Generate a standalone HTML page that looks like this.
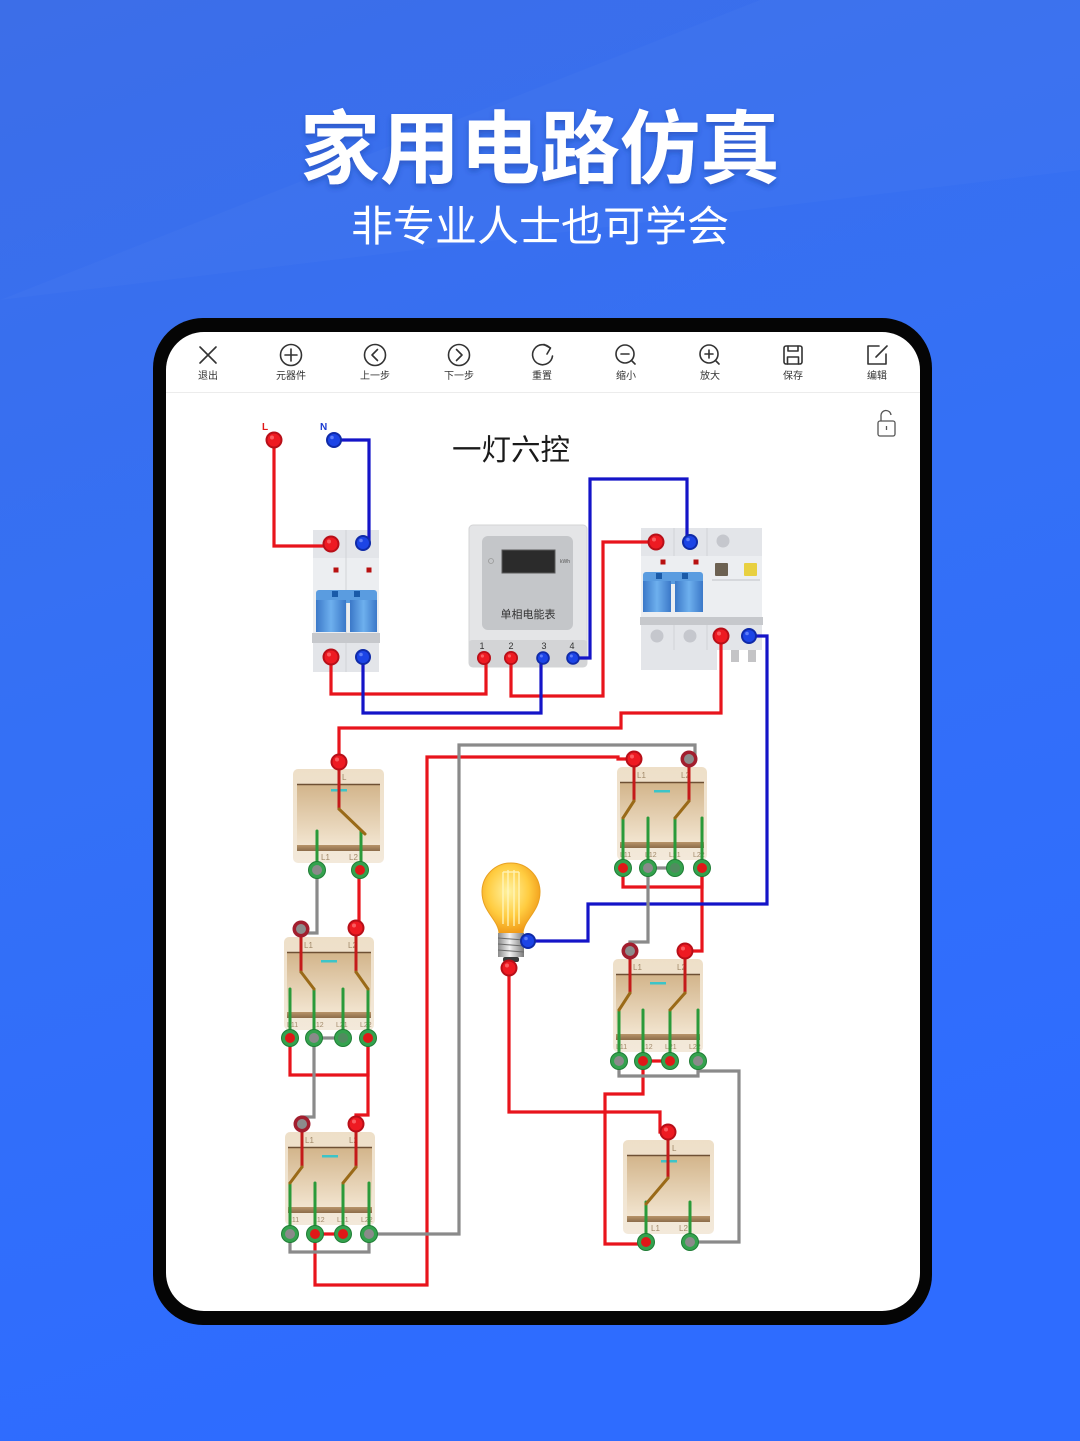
<!DOCTYPE html>
<html><head><meta charset="utf-8"><style>
html,body{margin:0;padding:0;background:#3570f5;}
svg{display:block;}
text{font-family:"Liberation Sans","Noto Sans CJK SC",sans-serif;}
</style></head><body>
<svg width="1080" height="1441" viewBox="0 0 1080 1441" xmlns="http://www.w3.org/2000/svg">
<defs>
<linearGradient id="bg" x1="0" y1="0" x2="0.25" y2="1">
<stop offset="0" stop-color="#3c6ee8"/><stop offset="0.5" stop-color="#3470f6"/><stop offset="1" stop-color="#2e6cff"/></linearGradient>
<filter id="sh" x="-10%" y="-30%" width="120%" height="160%"><feDropShadow dx="0" dy="3" stdDeviation="3" flood-color="#1a3a9a" flood-opacity="0.45"/></filter>
<linearGradient id="frame" x1="0" y1="0" x2="0" y2="1"><stop offset="0" stop-color="#eedfc8"/><stop offset="1" stop-color="#f3e9da"/></linearGradient>
<linearGradient id="panel" x1="0" y1="0" x2="0" y2="1"><stop offset="0" stop-color="#d2b48a"/><stop offset="1" stop-color="#f5e9d6"/></linearGradient>
<linearGradient id="band" x1="0" y1="0" x2="0" y2="1"><stop offset="0" stop-color="#b8946a"/><stop offset="1" stop-color="#8c6c4a"/></linearGradient>
<linearGradient id="hdl" x1="0" y1="0" x2="1" y2="0"><stop offset="0" stop-color="#3b78c8"/><stop offset="0.5" stop-color="#6eb0ee"/><stop offset="1" stop-color="#3b78c8"/></linearGradient>
<radialGradient id="glass" cx="0.45" cy="0.4" r="0.6"><stop offset="0" stop-color="#fff2a0"/><stop offset="0.6" stop-color="#ffcc40"/><stop offset="1" stop-color="#f09a18"/></radialGradient>
<linearGradient id="metal" x1="0" y1="0" x2="1" y2="0"><stop offset="0" stop-color="#8a8a8a"/><stop offset="0.45" stop-color="#f2f2f2"/><stop offset="1" stop-color="#7a7a7a"/></linearGradient>
<g id="tr"><circle r="8.5" fill="#b80f18"/><circle r="6.5" fill="#ee1a22"/><circle cx="-2" cy="-2.5" r="2" fill="#ff7a7a" opacity="0.7"/></g>
<g id="tb"><circle r="8" fill="#0f2aa8"/><circle r="6" fill="#1c44e6"/><circle cx="-2" cy="-2.5" r="1.8" fill="#7a96ff" opacity="0.7"/></g>
<g id="trs"><circle r="7" fill="#b80f18"/><circle r="5.3" fill="#ee1a22"/><circle cx="-1.6" cy="-2" r="1.6" fill="#ff7a7a" opacity="0.7"/></g>
<g id="tbs"><circle r="6.8" fill="#0f2aa8"/><circle r="5" fill="#1c44e6"/><circle cx="-1.6" cy="-2" r="1.5" fill="#7a96ff" opacity="0.7"/></g>
<g id="tgr"><circle r="8.5" fill="#34a24e" stroke="#1f7d35" stroke-width="1"/><circle r="5" fill="#e01818"/></g>
<g id="tgg"><circle r="8.5" fill="#34a24e" stroke="#1f7d35" stroke-width="1"/><circle r="5" fill="#8a8a8a"/></g>
<g id="tgn"><circle r="8.5" fill="#34a24e" stroke="#1f7d35" stroke-width="1"/><circle r="5" fill="#4f8c5e"/></g>
<g id="tdr"><circle r="8.5" fill="#a21e2e"/><circle r="5" fill="#8c8c8c"/></g>
<g id="dsw">
<rect x="0" y="0" width="90" height="93" rx="5" fill="url(#frame)"/>
<rect x="3" y="15" width="84" height="66" fill="url(#panel)"/>
<line x1="3" y1="15.5" x2="87" y2="15.5" stroke="#6e5034" stroke-width="1.5"/>
<rect x="3" y="75" width="84" height="6" fill="url(#band)"/>
<rect x="37" y="23" width="16" height="2.5" fill="#3cc4c8"/>
<text x="20" y="11" font-size="8" fill="#a08868">L1</text>
<text x="64" y="11" font-size="8" fill="#a08868">L2</text>
<text x="3" y="90" font-size="7" fill="#a08868">L11</text>
<text x="28" y="90" font-size="7" fill="#a08868">L12</text>
<text x="52" y="90" font-size="7" fill="#a08868">L21</text>
<text x="76" y="90" font-size="7" fill="#a08868">L22</text>
</g>
<g id="ssw">
<rect x="0" y="0" width="91" height="94" rx="5" fill="url(#frame)"/>
<rect x="4" y="15" width="83" height="67" fill="url(#panel)"/>
<line x1="4" y1="15.5" x2="87" y2="15.5" stroke="#6e5034" stroke-width="1.5"/>
<rect x="4" y="76" width="83" height="6" fill="url(#band)"/>
<rect x="38" y="20" width="16" height="2.5" fill="#3cc4c8"/>
<text x="49" y="11" font-size="8" fill="#a08868">L</text>
<text x="28" y="91" font-size="8" fill="#a08868">L1</text>
<text x="56" y="91" font-size="8" fill="#a08868">L2</text>
</g>
</defs>

<rect width="1080" height="1441" fill="url(#bg)"/>
<polygon points="0,300 1080,170 1080,0 760,0" fill="#ffffff" opacity="0.025"/>

<text x="540" y="177" font-size="80" font-weight="bold" fill="#ffffff" text-anchor="middle" filter="url(#sh)">家用电路仿真</text>
<text x="540" y="241" font-size="42" fill="#ffffff" text-anchor="middle">非专业人士也可学会</text>

<rect x="153" y="318" width="779" height="1007" rx="50" fill="#050505"/>
<rect x="166" y="332" width="754" height="979" rx="38" fill="#ffffff"/>
<line x1="166" y1="392.5" x2="920" y2="392.5" stroke="#ececec" stroke-width="1"/>

<!-- toolbar -->
<g fill="none" stroke="#333" stroke-width="1.6" stroke-linecap="round" stroke-linejoin="round">
<path d="M200,347 L216,363 M216,347 L200,363"/>
<circle cx="291" cy="355" r="10.5"/><path d="M291,349 V361 M285,355 H297"/>
<circle cx="375" cy="355" r="10.5"/><path d="M377.5,349.5 L372,355 L377.5,360.5"/>
<circle cx="459" cy="355" r="10.5"/><path d="M456.5,349.5 L462,355 L456.5,360.5"/>
<path d="M550,348 A10,10 0 1 0 552.5,356"/><path d="M544,344.5 L550.5,348 L547,354"/>
<circle cx="625" cy="354" r="9"/><path d="M631.5,360.5 L635,364 M621,354 H629"/>
<circle cx="709" cy="354" r="9"/><path d="M715.5,360.5 L719,364 M705,354 H713 M709,350 V358"/>
<rect x="784" y="346" width="18" height="18" rx="2"/><path d="M788,346 V351 H798 V346 M787.5,364 V357 H798.5 V364"/>
<path d="M879,346 H868 V364 H886 V354"/><path d="M876,357 L887,346"/>
</g>
<g font-size="10" fill="#333" text-anchor="middle">
<text x="208" y="379">退出</text><text x="291" y="379">元器件</text><text x="375" y="379">上一步</text>
<text x="459" y="379">下一步</text><text x="542" y="379">重置</text><text x="626" y="379">缩小</text>
<text x="710" y="379">放大</text><text x="793" y="379">保存</text><text x="877" y="379">编辑</text>
</g>

<!-- lock -->
<g fill="none" stroke="#555" stroke-width="1.3">
<rect x="878" y="421" width="17" height="15" rx="2"/>
<path d="M881,421 V416 A5,5 0 0 1 891,415"/>
<path d="M886.5,426 V430"/>
</g>

<text x="452" y="460" font-size="29.5" fill="#1a1a1a">一灯六控</text>

<!-- L/N labels -->
<text x="262" y="430" font-size="10" font-weight="bold" fill="#e01818">L</text>
<text x="320" y="430" font-size="10" font-weight="bold" fill="#1a3ad0">N</text>

<!-- breaker 1 -->
<rect x="313" y="530" width="66" height="28" fill="#e3e5e9"/>
<rect x="313" y="558" width="66" height="85" fill="#eceef1"/>
<line x1="346" y1="530" x2="346" y2="643" stroke="#d2d4d8" stroke-width="1"/>
<rect x="333.5" y="567.5" width="5" height="5" fill="#b81010"/>
<rect x="366.5" y="567.5" width="5" height="5" fill="#b81010"/>
<rect x="316" y="590" width="61" height="13" rx="3" fill="#5a9ce0"/>
<rect x="316" y="600" width="30" height="32" fill="url(#hdl)"/>
<rect x="350" y="600" width="27" height="32" fill="url(#hdl)"/>
<rect x="332" y="591" width="6" height="6" fill="#1a5aa8"/>
<rect x="354" y="591" width="6" height="6" fill="#1a5aa8"/>
<rect x="312" y="633" width="68" height="10" fill="#c6c8cc"/>
<rect x="313" y="643" width="66" height="29" fill="#e3e5e9"/>
<line x1="346" y1="643" x2="346" y2="672" stroke="#d2d4d8" stroke-width="1"/>

<!-- meter -->
<rect x="469" y="525" width="118" height="142" rx="4" fill="#e4e5e7" stroke="#d3d4d6"/>
<rect x="482" y="536" width="91" height="94" rx="6" fill="#c4c6c9"/>
<rect x="502" y="550" width="53" height="23" fill="#2b2b2b" stroke="#5a5a5a"/>
<circle cx="491" cy="561" r="2.5" fill="none" stroke="#999" stroke-width="0.8"/>
<text x="560" y="563" font-size="5" fill="#555">kWh</text>
<text x="528" y="618" font-size="11" fill="#333" text-anchor="middle">单相电能表</text>
<rect x="469" y="640" width="118" height="27" rx="3" fill="#d3d4d6"/>
<g font-size="9" fill="#333" text-anchor="middle"><text x="482" y="649">1</text><text x="511" y="649">2</text><text x="544" y="649">3</text><text x="572" y="649">4</text></g>

<!-- RCD -->
<rect x="641" y="528" width="121" height="28" fill="#e3e5e9"/>
<line x1="674" y1="528" x2="674" y2="556" stroke="#d2d4d8"/><line x1="707" y1="528" x2="707" y2="556" stroke="#d2d4d8"/>
<rect x="641" y="556" width="121" height="61" fill="#eceef1"/>
<rect x="660.5" y="559.5" width="5" height="5" fill="#b81010"/>
<rect x="693.5" y="559.5" width="5" height="5" fill="#b81010"/>
<rect x="643" y="572" width="60" height="12" rx="3" fill="#5a9ce0"/>
<rect x="643" y="581" width="28" height="31" fill="url(#hdl)"/>
<rect x="675" y="581" width="28" height="31" fill="url(#hdl)"/>
<rect x="656" y="573" width="6" height="6" fill="#1a5aa8"/>
<rect x="682" y="573" width="6" height="6" fill="#1a5aa8"/>
<rect x="715" y="563" width="13" height="13" rx="1" fill="#6c6152"/>
<rect x="744" y="563" width="13" height="13" rx="1" fill="#e8d040"/>
<line x1="712" y1="580" x2="760" y2="580" stroke="#c0c2c6" stroke-width="1"/>
<rect x="640" y="617" width="123" height="8" fill="#c6c8cc"/>
<rect x="641" y="625" width="121" height="25" fill="#e3e5e9"/>
<line x1="674" y1="625" x2="674" y2="650" stroke="#d2d4d8"/><line x1="707" y1="625" x2="707" y2="650" stroke="#d2d4d8"/>
<rect x="641" y="650" width="76" height="20" fill="#e3e5e9"/>
<rect x="731" y="650" width="8" height="12" fill="#c4c4c6"/><rect x="748" y="650" width="8" height="12" fill="#c4c4c6"/>
<circle cx="723" cy="541" r="6.5" fill="#c5c7cd"/>
<circle cx="657" cy="636" r="6.5" fill="#c5c7cd"/>
<circle cx="690" cy="636" r="6.5" fill="#c5c7cd"/>

<!-- switch bodies -->
<use href="#ssw" x="293" y="769"/>
<use href="#dsw" x="284" y="937"/>
<use href="#dsw" x="285" y="1132"/>
<use href="#dsw" x="617" y="767"/>
<use href="#dsw" x="613" y="959"/>
<use href="#ssw" x="623" y="1140"/>

<!-- bulb -->
<path d="M499,934 C499,920 482,912 482,892 A29,29 0 1 1 540,892 C540,912 523,920 523,934 Z" fill="url(#glass)" stroke="#e8a020" stroke-width="1"/>
<g stroke="#fff6c0" stroke-width="1.4" fill="none" opacity="0.9">
<path d="M503,872 V924 M508,870 V926 M514,870 V926 M519,872 V924"/>
<path d="M503,872 H519"/>
</g>
<rect x="498" y="933" width="26" height="24" fill="url(#metal)"/>
<g stroke="#6a6a6a" stroke-width="1"><line x1="498" y1="938" x2="524" y2="940"/><line x1="498" y1="944" x2="524" y2="946"/><line x1="498" y1="950" x2="524" y2="952"/></g>
<rect x="503" y="957" width="16" height="5" rx="2" fill="#3a3a3a"/>

<!-- wires -->
<g fill="none" stroke-width="3.2" stroke-linejoin="miter">
<g stroke="#e8141c">
<path d="M274,440 V546 H330"/>
<path d="M331,657 V694 H486 V658"/>
<path d="M511,658 V696 H603 V542 H656"/>
<path d="M721,636 V713 H621 V728 H339 V762"/>
<path d="M359,870 V929"/>
<path d="M290,1038 V1075 H368 V1038"/>
<path d="M368,1038 V1115 H356 V1124"/>
<path d="M315,1234 H343"/>
<path d="M315,1234 V1285 H427 V757 H618 V759 H634"/>
<path d="M623,868 V887 H702 V868"/>
<path d="M702,868 V951 H685"/>
<path d="M643,1061 H670"/>
<path d="M643,1061 V1094 H605 V1244 H646"/>
<path d="M509,968 V1112 H660 V1132 H668"/>
</g>
<g stroke="#1414c8">
<path d="M334,440 H369 V543 H363"/>
<path d="M363,657 V713 H541 V658"/>
<path d="M573,658 H590 V479 H687 V542"/>
<path d="M749,636 H767 V904 H588 V941 H528"/>
</g>
<g stroke="#8a8a8a">
<path d="M317,870 V933 H301"/>
<path d="M314,1038 H343"/>
<path d="M314,1038 V1117 H302 V1124"/>
<path d="M290,1234 V1252 H369 V1234"/>
<path d="M369,1234 H459 V745 H695 V757"/>
<path d="M648,868 H675"/>
<path d="M648,868 V942 H630 V951"/>
<path d="M619,1061 V1076 H698 V1061"/>
<path d="M698,1071 H739 V1242 H690"/>
</g>
</g>

<!-- switch internals -->
<g fill="none" stroke-width="3" stroke-linecap="round">
<g stroke="#2a9a3a">
<path d="M317,831 V870 M361,831 V870"/>
<path d="M290,989 V1038 M314,989 V1038 M343,989 V1038 M368,989 V1038"/>
<path d="M290,1183 V1234 M315,1183 V1234 M343,1183 V1234 M369,1183 V1234"/>
<path d="M623,818 V868 M648,818 V868 M675,818 V868 M702,818 V868"/>
<path d="M619,1010 V1061 M643,1010 V1061 M670,1010 V1061 M698,1010 V1061"/>
<path d="M646,1202 V1242 M690,1202 V1242"/>
</g>
<g stroke="#c41a1a">
<path d="M339,762 V809"/>
<path d="M301,929 V972 M356,928 V972"/>
<path d="M302,1124 V1167 M356,1124 V1167"/>
<path d="M634,759 V801 M689,759 V801"/>
<path d="M630,951 V993 M685,951 V993"/>
<path d="M668,1132 V1178"/>
</g>
<g stroke="#9a6a18">
<path d="M339,809 L365,834"/>
<path d="M301,972 L314,989 M356,972 L368,989"/>
<path d="M302,1167 L290,1183 M356,1167 L343,1183"/>
<path d="M634,801 L623,818 M689,801 L675,818"/>
<path d="M630,993 L619,1010 M685,993 L670,1010"/>
<path d="M668,1178 L646,1204"/>
</g>
</g>

<!-- terminals -->
<use href="#tr" x="274" y="440"/><use href="#tb" x="334" y="440"/>
<use href="#tr" x="331" y="544"/><use href="#tb" x="363" y="543"/>
<use href="#tr" x="331" y="657"/><use href="#tb" x="363" y="657"/>
<use href="#trs" x="484" y="658"/><use href="#trs" x="511" y="658"/>
<use href="#tbs" x="543" y="658"/><use href="#tbs" x="573" y="658"/>
<use href="#tr" x="656" y="542"/><use href="#tb" x="690" y="542"/>
<use href="#tr" x="721" y="636"/><use href="#tb" x="749" y="636"/>
<use href="#tb" x="528" y="941"/><use href="#tr" x="509" y="968"/>

<use href="#tr" x="339" y="762"/><use href="#tgg" x="317" y="870"/><use href="#tgr" x="360" y="870"/>
<use href="#tdr" x="301" y="929"/><use href="#tr" x="356" y="928"/>
<use href="#tgr" x="290" y="1038"/><use href="#tgg" x="314" y="1038"/><use href="#tgn" x="343" y="1038"/><use href="#tgr" x="368" y="1038"/>
<use href="#tdr" x="302" y="1124"/><use href="#tr" x="356" y="1124"/>
<use href="#tgg" x="290" y="1234"/><use href="#tgr" x="315" y="1234"/><use href="#tgr" x="343" y="1234"/><use href="#tgg" x="369" y="1234"/>
<use href="#tr" x="634" y="759"/><use href="#tdr" x="689" y="759"/>
<use href="#tgr" x="623" y="868"/><use href="#tgg" x="648" y="868"/><use href="#tgn" x="675" y="868"/><use href="#tgr" x="702" y="868"/>
<use href="#tdr" x="630" y="951"/><use href="#tr" x="685" y="951"/>
<use href="#tgg" x="619" y="1061"/><use href="#tgr" x="643" y="1061"/><use href="#tgr" x="670" y="1061"/><use href="#tgg" x="698" y="1061"/>
<use href="#tr" x="668" y="1132"/><use href="#tgr" x="646" y="1242"/><use href="#tgg" x="690" y="1242"/>
</svg>
</body></html>
